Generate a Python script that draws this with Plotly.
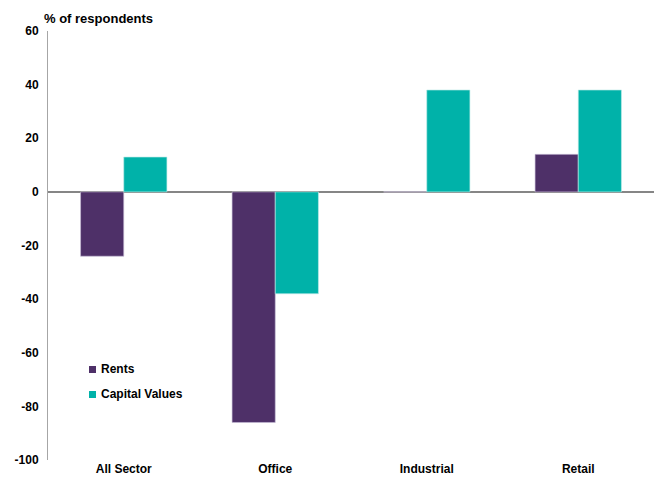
import plotly.graph_objects as go

# Survey balance by sector
sectors = ["All Sector", "Office", "Industrial", "Retail"]
rents = [-24, -86, 0, 14]
capital_values = [13, -38, 38, 38]
y_ticks = [60, 40, 20, 0, -20, -40, -60, -80, -100]
series_names = ["Rents", "Capital Values"]

PURPLE = "#4E3068"
TEAL = "#00B2A9"
FONT = "Liberation Sans, Arial, sans-serif"

fig = go.Figure()
fig.add_trace(go.Bar(
    x=sectors, y=rents, name=series_names[0],
    marker=dict(color=PURPLE, line=dict(color="rgba(200,190,215,0.8)", width=0.8)),
))
fig.add_trace(go.Bar(
    x=sectors, y=capital_values, name=series_names[1],
    marker=dict(color=TEAL, line=dict(color="rgba(190,235,232,0.8)", width=0.8)),
))

# Compact key: small colour squares with labels set tight beside them
key_x0, key_x1, key_text_x = 0.0677, 0.0792, 0.0842
key_rows = [(0.2028, 0.2191, 0.2111), (0.1445, 0.1608, 0.1527)]
shapes = []
annotations = []
for name, color, (y0, y1, yt) in zip(series_names, [PURPLE, TEAL], key_rows):
    shapes.append(dict(type="rect", xref="paper", yref="paper",
                       x0=key_x0, x1=key_x1, y0=y0, y1=y1,
                       fillcolor=color, line=dict(width=0)))
    annotations.append(dict(text=f"<b>{name}</b>", xref="paper", yref="paper",
                            x=key_text_x, y=yt, xanchor="left", yanchor="middle",
                            showarrow=False,
                            font=dict(family=FONT, size=12, color="black")))

annotations.append(dict(
    text="<b>% of respondents</b>", xref="paper", yref="paper",
    x=-0.01, y=1, xanchor="left", yanchor="bottom", yshift=3,
    showarrow=False, font=dict(family=FONT, size=13, color="black"),
))

fig.update_layout(
    width=660, height=484,
    margin=dict(l=48, r=6, t=31, b=24),
    paper_bgcolor="white", plot_bgcolor="white",
    barmode="group", bargap=0.43, bargroupgap=0,
    font=dict(family=FONT, size=12, color="black"),
    showlegend=False,
    shapes=shapes,
    annotations=annotations,
)

fig.update_xaxes(
    showgrid=False, showline=False, ticks="", automargin=False,
    tickfont=dict(family=FONT, size=12, color="black", weight="bold"),
)
fig.update_yaxes(
    range=[-100, 60], tickvals=y_ticks, ticktext=[str(v) for v in y_ticks],
    showgrid=False, showline=True, linecolor="#A6A6A6", linewidth=1,
    zeroline=True, zerolinecolor="#868686", zerolinewidth=1.5,
    ticks="", ticklabelstandoff=6, automargin=False,
    tickfont=dict(family=FONT, size=12, color="black", weight="bold"),
)

fig.write_html("out.html")
